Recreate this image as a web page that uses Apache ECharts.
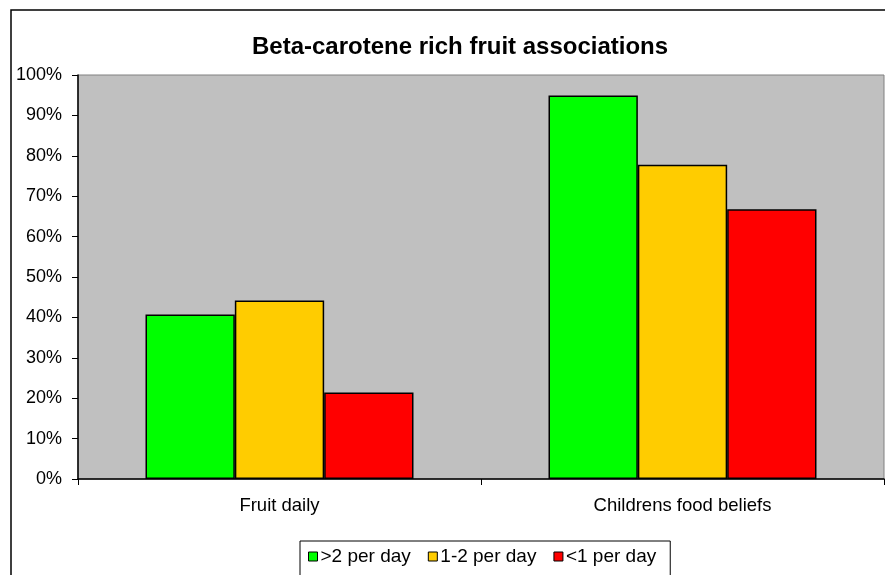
<!DOCTYPE html>
<html>
<head>
<meta charset="utf-8">
<script src="https://cdn.jsdelivr.net/npm/echarts@6/dist/echarts.min.js"></script>
<style>
  html, body { margin: 0; padding: 0; background: #fff; }
  #chart { width: 885px; height: 575px; }
</style>
</head>
<body>
<div id="chart"></div>
<script>
// Categories and series values (share of respondents)
const categories = ['Fruit daily', 'Childrens food beliefs'];
const seriesNames = ['>2 per day', '1-2 per day', '<1 per day'];
const moreThanTwo = [0.407, 0.949];
const oneToTwo = [0.442, 0.778];
const lessThanOne = [0.214, 0.668];
const seriesColors = ['#00FF00', '#FFCC00', '#FF0000'];

const font = 'Arial, "Liberation Sans", sans-serif';
const valuesBySeries = [moreThanTwo, oneToTwo, lessThanOne];

const chart = echarts.init(document.getElementById('chart'), null, { renderer: 'canvas' });

chart.setOption({
  backgroundColor: '#ffffff',
  animation: false,
  textStyle: { fontFamily: font, color: '#000' },
  title: {
    text: 'Beta-carotene rich fruit associations',
    left: 247,
    top: 30,
    textStyle: { fontFamily: font, fontSize: 24, fontWeight: 'bold', color: '#000' }
  },
  graphic: [{
    type: 'rect',
    shape: { x: 11, y: 10, width: 900, height: 600 },
    style: { fill: 'none', stroke: '#000', lineWidth: 1.5 },
    z: 100
  }],
  legend: {
    data: seriesNames,
    left: 300,
    top: 541,
    orient: 'horizontal',
    padding: [6, 14, 10, 8],
    itemGap: 17,
    itemWidth: 9,
    itemHeight: 9,
    borderColor: '#000',
    borderWidth: 1,
    backgroundColor: '#fff',
    textStyle: { fontFamily: font, fontSize: 19, color: '#000', padding: [0, 0, 0, -2] },
    itemStyle: { borderColor: '#000', borderWidth: 1 },
    icon: 'rect'
  },
  grid: {
    left: 78,
    right: 1,
    top: 75,
    bottom: 96,
    show: true,
    backgroundColor: '#C0C0C0',
    borderColor: '#808080',
    borderWidth: 1
  },
  xAxis: {
    type: 'category',
    data: categories,
    axisLine: { lineStyle: { color: '#000', width: 1.5 } },
    axisTick: { show: true, length: 6, lineStyle: { color: '#000' } },
    axisLabel: { fontFamily: font, fontSize: 18.5, color: '#000', margin: 17 },
    splitLine: { show: false }
  },
  yAxis: {
    type: 'value',
    min: 0,
    max: 1,
    interval: 0.1,
    axisLine: { show: true, lineStyle: { color: '#000', width: 1.5 } },
    axisTick: { show: true, length: 6, lineStyle: { color: '#000' } },
    axisLabel: {
      fontFamily: font, fontSize: 18, color: '#000', margin: 16,
      formatter: v => Math.round(v * 100) + '%'
    },
    splitLine: { show: false }
  },
  series: seriesNames.map((name, i) => ({
    name: name,
    type: 'bar',
    data: valuesBySeries[i],
    barGap: '0%',
    barCategoryGap: '33.5%',
    itemStyle: {
      color: seriesColors[i],
      borderColor: '#000',
      borderWidth: 1.5
    }
  }))
});
</script>
</body>
</html>
